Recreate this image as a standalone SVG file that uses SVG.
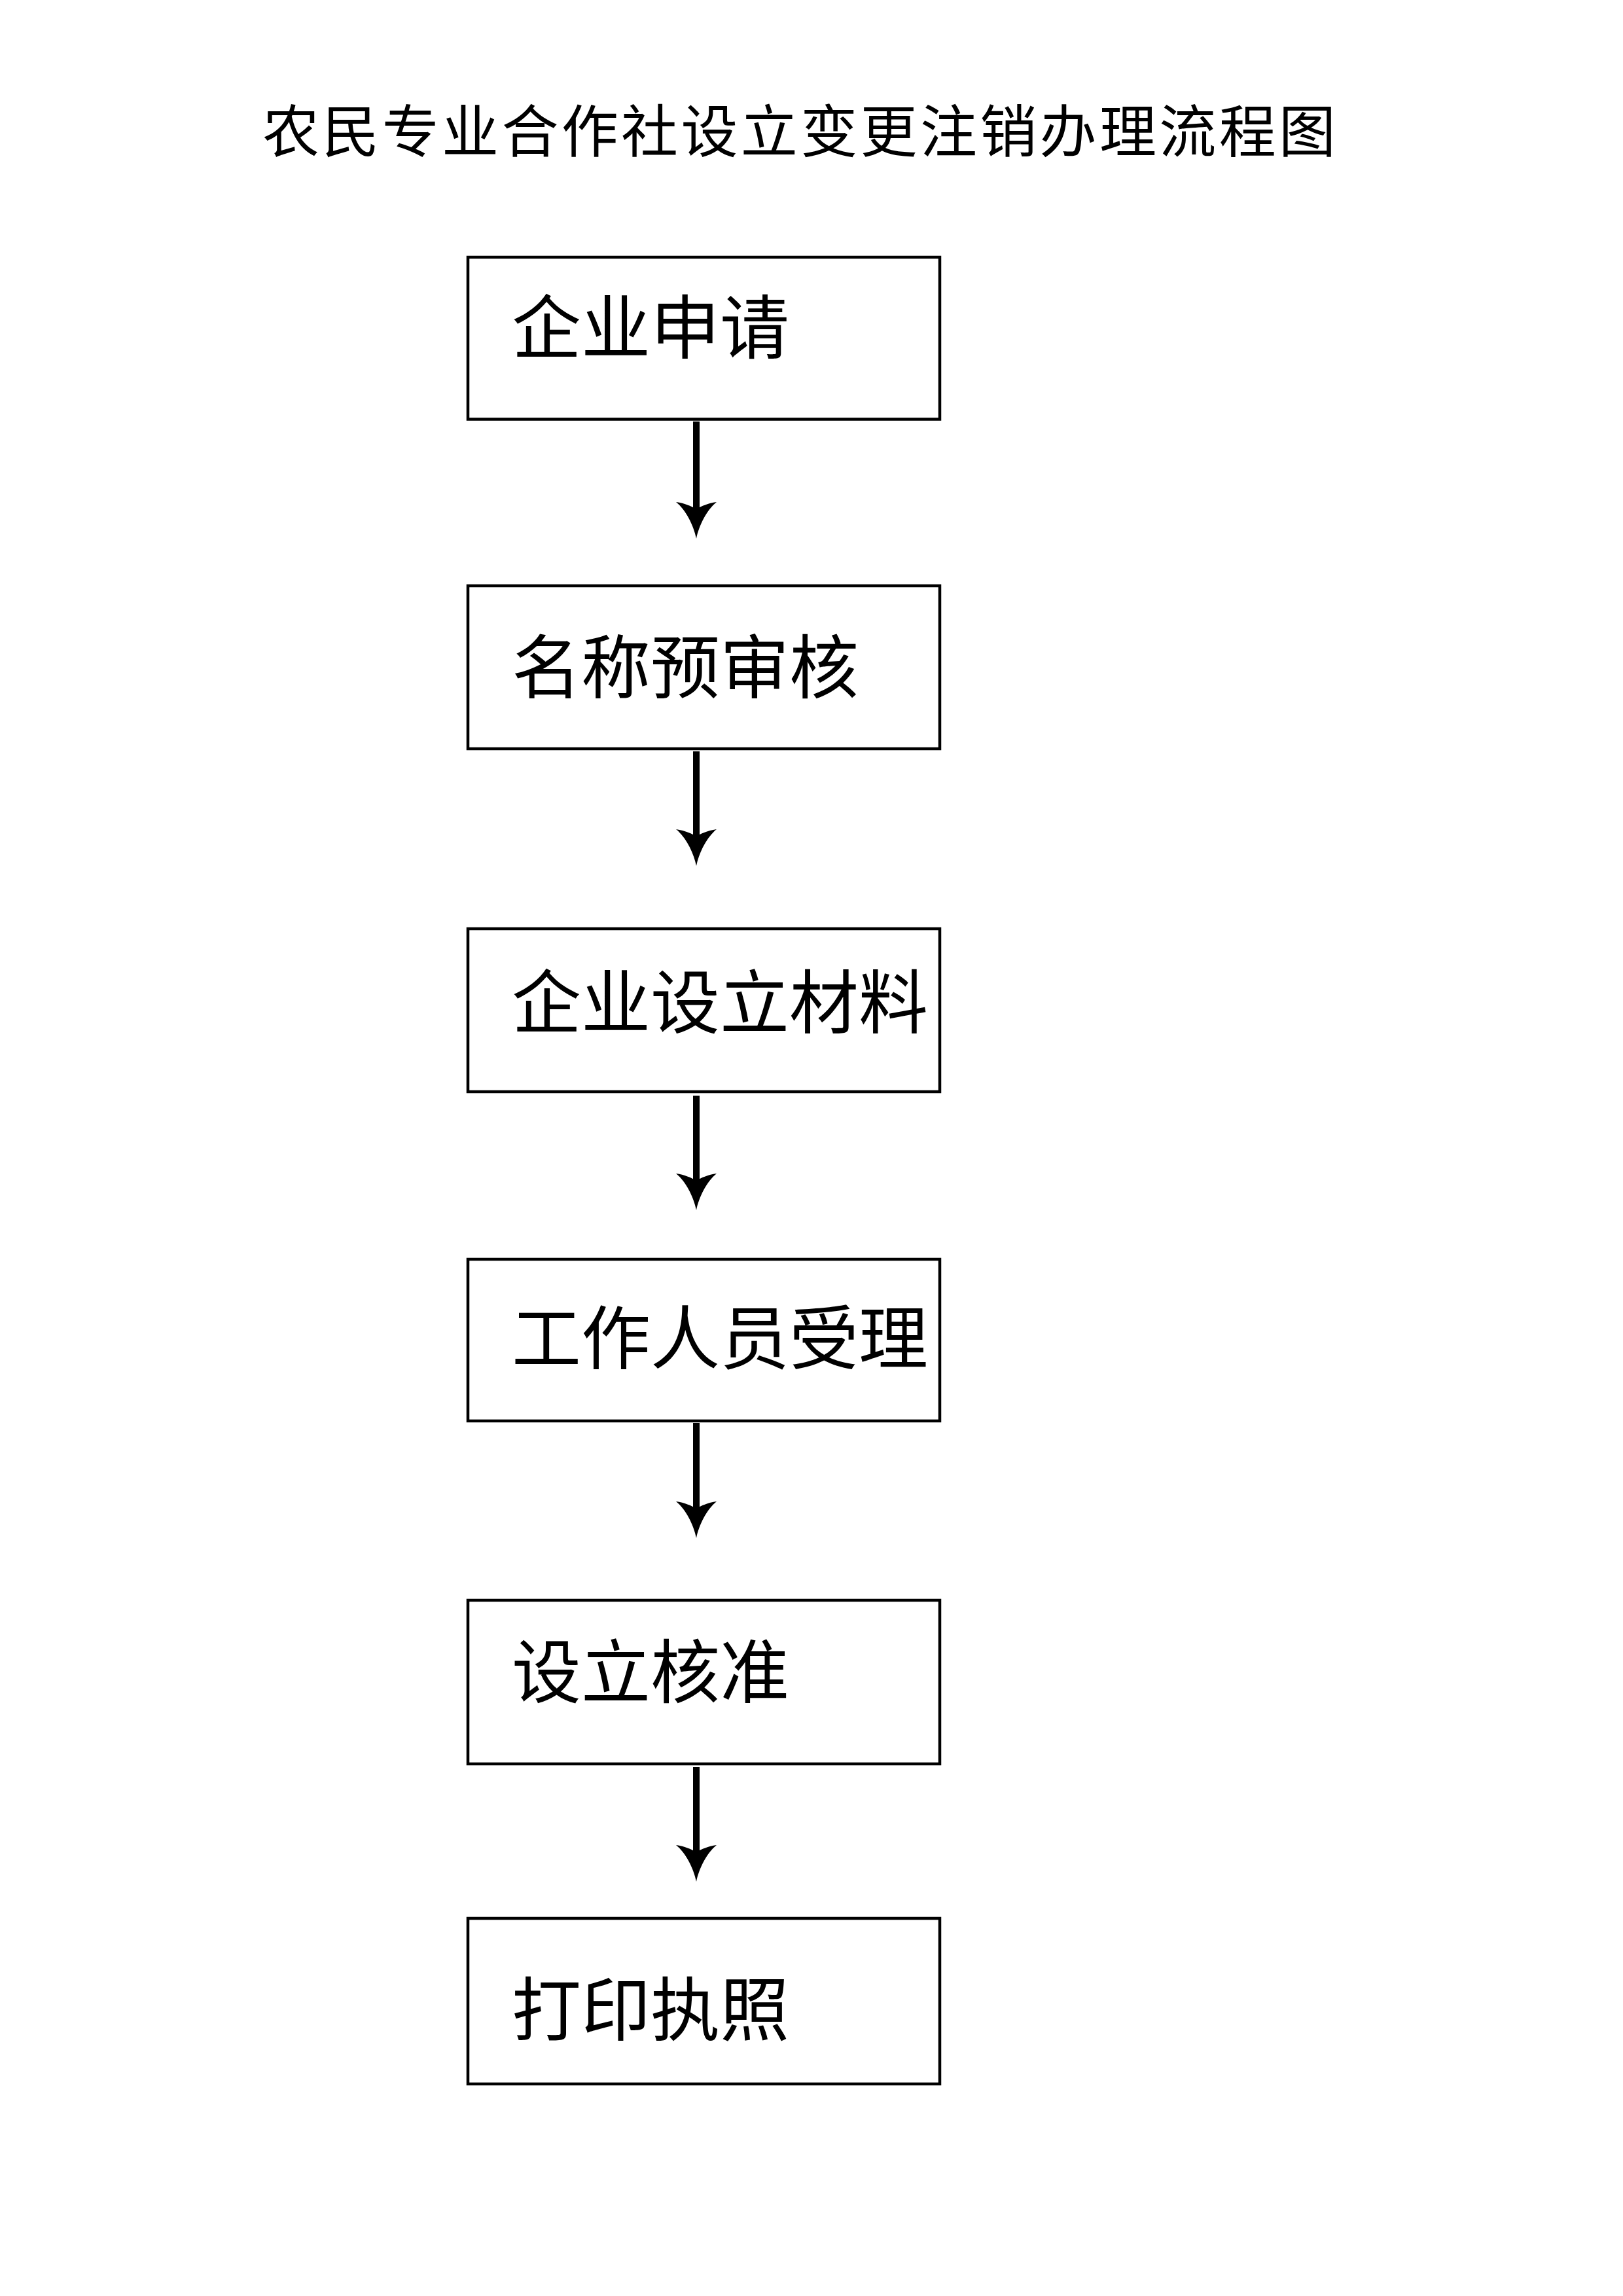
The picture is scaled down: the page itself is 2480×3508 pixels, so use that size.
<svg xmlns="http://www.w3.org/2000/svg" xmlns:xlink="http://www.w3.org/1999/xlink" width="2480" height="3508" viewBox="0 0 2480 3508">
<style>
.box{fill:#fff;stroke:#000;stroke-width:4.5}
.lbl{font-family:"Noto Sans CJK SC","Noto Sans CJK TC",sans-serif;font-size:106px;fill:#000}
.ttl{font-family:"Noto Sans CJK SC","Noto Sans CJK TC",sans-serif;font-size:87px;fill:#000}
.shaft{stroke:#000;stroke-width:10;fill:none}
.head{fill:#000;stroke:none}
</style>
<defs>
<path id="ah" d="M0,0 C-4,-20 -16,-44 -31,-56 C-18,-54 -8,-50 0,-45 C8,-50 18,-54 31,-56 C16,-44 4,-20 0,0 Z"/>
</defs>
<rect width="2480" height="3508" fill="#fff"/>
<g id="title">
<text class="ttl" x="401" y="233" textLength="1640" lengthAdjust="spacing">农民专业合作社设立变更注销办理流程图</text>
</g>
<g id="node1">
<rect class="box" x="715" y="393" width="721" height="247.5"/>
<text class="lbl" x="782" y="539">企业申请</text>
</g>
<g id="node2">
<rect class="box" x="715" y="895" width="721" height="249"/>
<text class="lbl" x="782" y="1058">名称预审核</text>
</g>
<g id="node3">
<rect class="box" x="715" y="1419" width="721" height="249"/>
<text class="lbl" x="782" y="1570">企业设立材料</text>
</g>
<g id="node4">
<rect class="box" x="715" y="1924" width="721" height="247"/>
<text class="lbl" x="782" y="2083">工作人员受理</text>
</g>
<g id="node5">
<rect class="box" x="715" y="2445" width="721" height="250"/>
<text class="lbl" x="782" y="2593">设立核准</text>
</g>
<g id="node6">
<rect class="box" x="715" y="2931" width="721" height="253"/>
<text class="lbl" x="782" y="3109">打印执照</text>
</g>
<g id="connectors">
<line class="shaft" x1="1064" y1="644" x2="1064" y2="780"/>
<use class="head" xlink:href="#ah" x="1064" y="823"/>
<line class="shaft" x1="1064" y1="1148" x2="1064" y2="1280"/>
<use class="head" xlink:href="#ah" x="1064" y="1323"/>
<line class="shaft" x1="1064" y1="1674" x2="1064" y2="1806"/>
<use class="head" xlink:href="#ah" x="1064" y="1849"/>
<line class="shaft" x1="1064" y1="2174" x2="1064" y2="2307"/>
<use class="head" xlink:href="#ah" x="1064" y="2350"/>
<line class="shaft" x1="1064" y1="2700" x2="1064" y2="2832"/>
<use class="head" xlink:href="#ah" x="1064" y="2875"/>
</g>
</svg>
